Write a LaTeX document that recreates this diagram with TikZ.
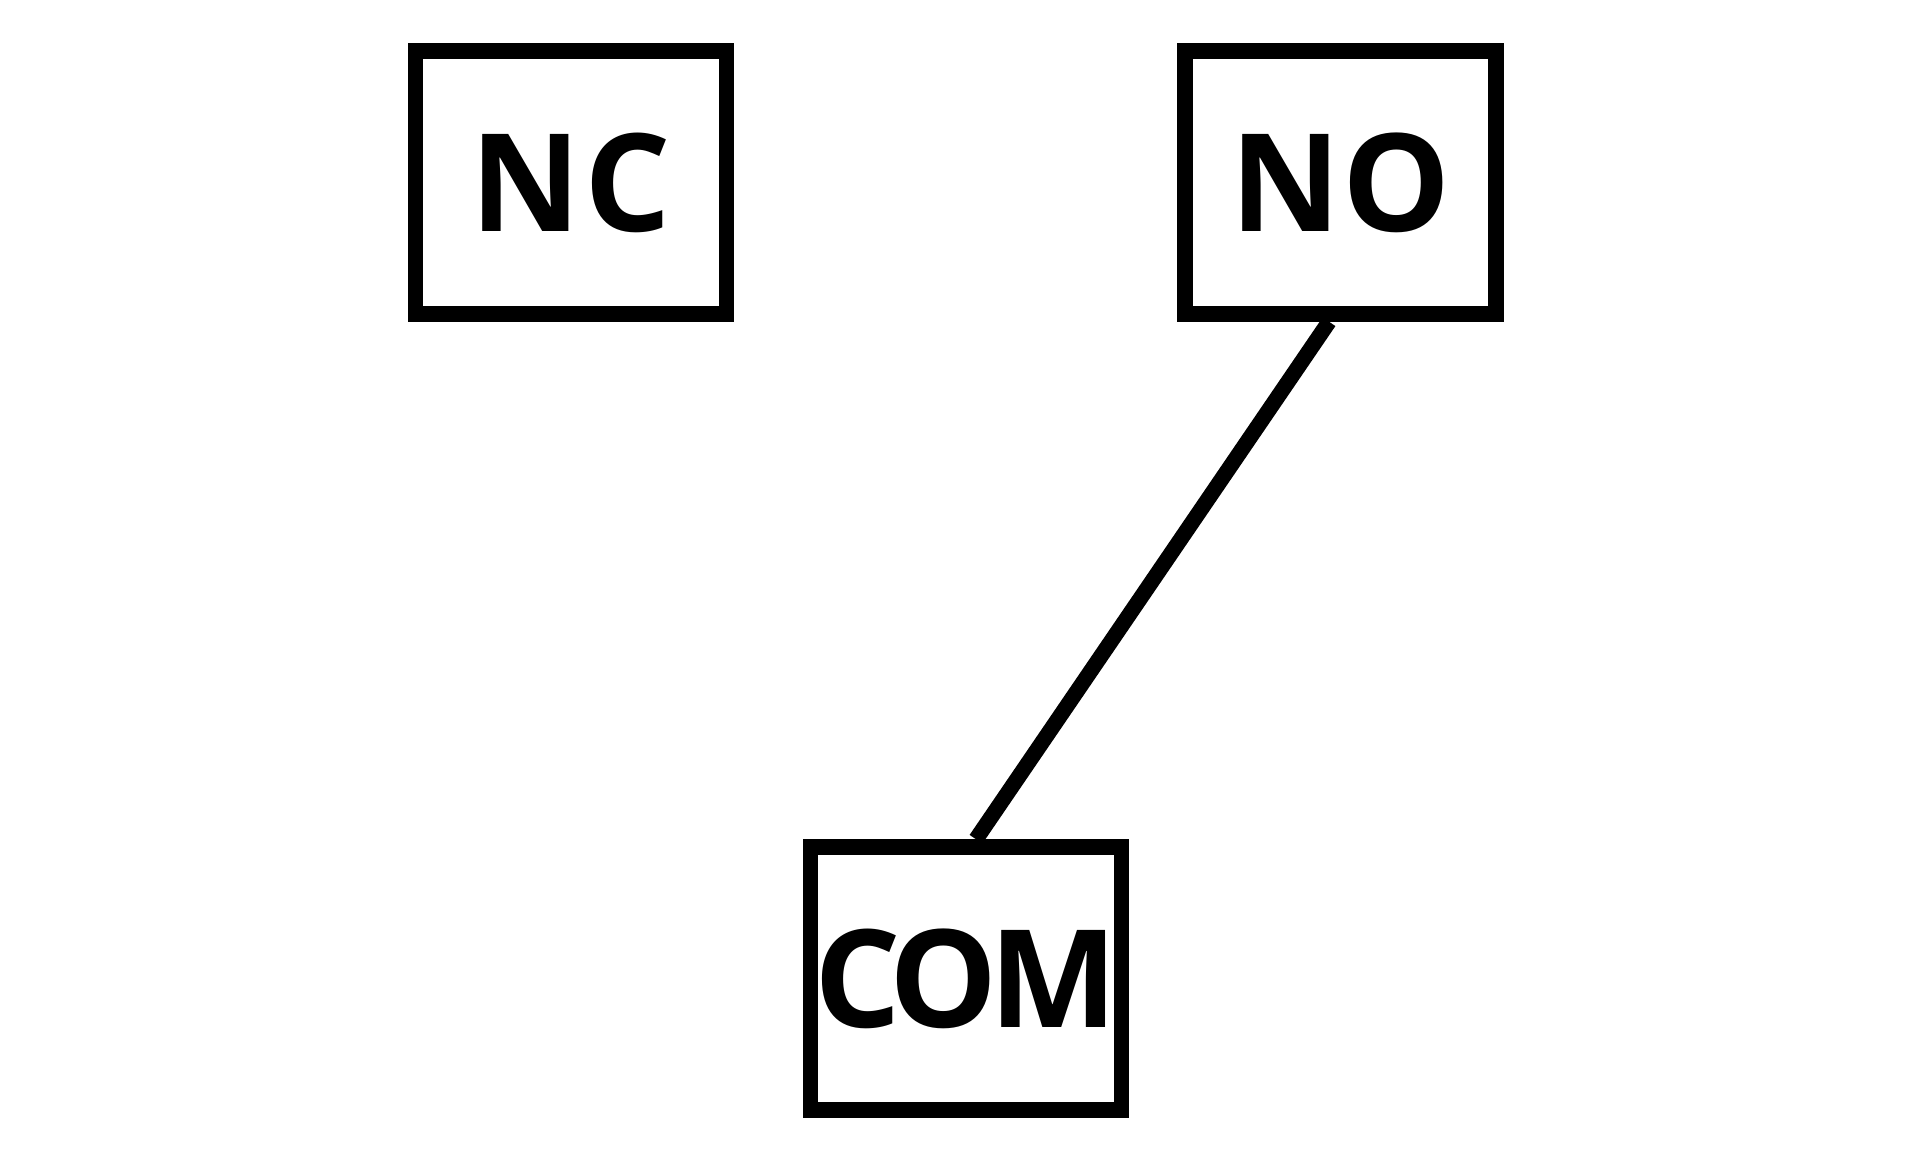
\documentclass[tikz,border=0pt]{standalone}
\usepackage{fontspec}
\setmainfont{Open Sans}
\usetikzlibrary{backgrounds}
\begin{document}
\begin{tikzpicture}[x=1cm,y=1cm,
  termbox/.style={draw=black, line width=4.4pt, minimum width=3.11cm, minimum height=2.63cm, inner sep=0pt, font=\fontsize{38.7}{40}\selectfont\bfseries},
  wire/.style={draw=black, line width=4.4pt}]
\useasboundingbox (0,0) rectangle (19.2,11.52);
\node[termbox] (NC) at (5.71,9.695) {N\kern0.03em C};
\node[termbox] (NO) at (13.405,9.695) {N\kern0.01em O};
\node[termbox] (COM) at (9.66,1.735) {C\kern-0.09em O\kern-0.06em M};
\begin{pgfonlayer}{background}
\draw[wire] ([xshift=-0.115cm]NO.south) -- ([xshift=0.1cm]COM.north);
\end{pgfonlayer}
\end{tikzpicture}
\end{document}
